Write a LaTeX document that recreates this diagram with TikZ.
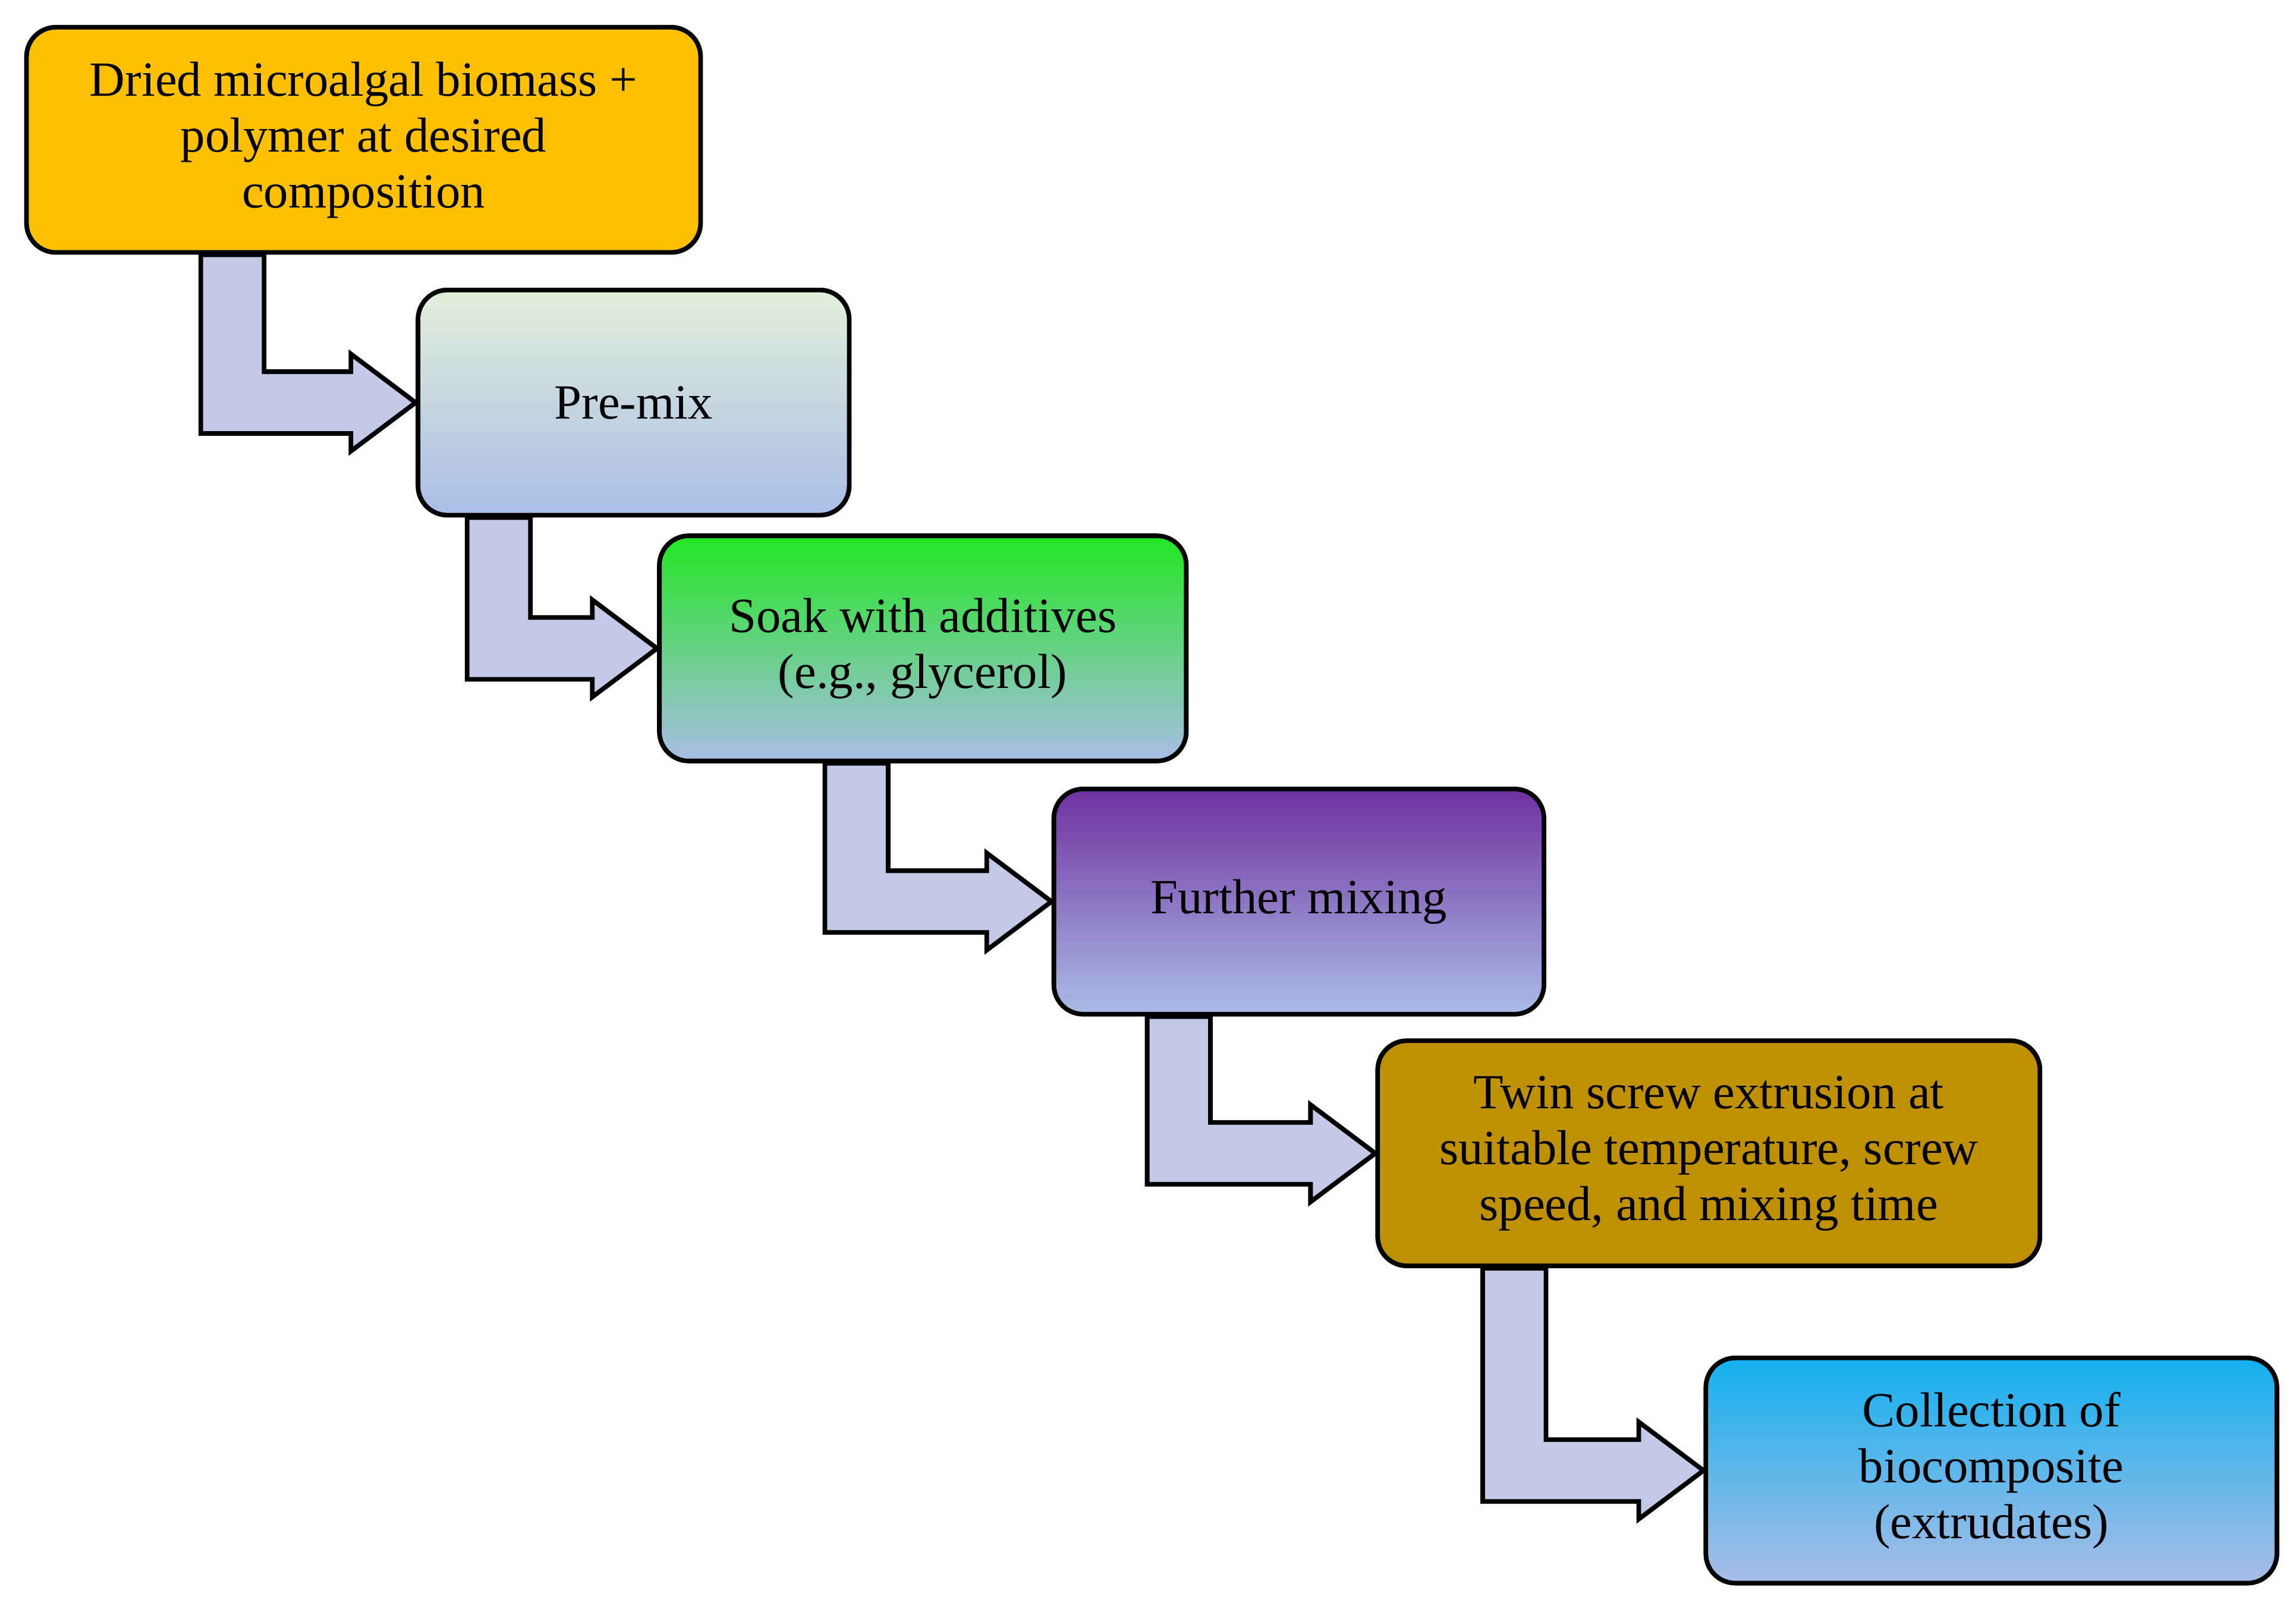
\documentclass[tikz,border=0pt]{standalone}
\usepackage{fontspec}
\setmainfont{Liberation Serif}
\usetikzlibrary{calc}
\definecolor{arrowfill}{HTML}{C4CAE6}
\definecolor{paleblue}{HTML}{A9BDE6}
\newcommand{\bentarrow}[3]{%
  \draw [flow] let \p1=(#1.south west), \p2=(#2.west) in
    ($(\x1,\y1)+(#3,0)$) -- ($(\x1,\y1)+(#3+0.43,0)$)
    -- ($(\x1,\y2)+(#3+0.43,0.21)$) -- ($(\x2,\y2)+(-0.44,0.21)$)
    -- ($(\x2,\y2)+(-0.44,0.33)$) -- (\x2,\y2)
    -- ($(\x2,\y2)+(-0.44,-0.33)$) -- ($(\x2,\y2)+(-0.44,-0.21)$)
    -- ($(\x1,\y2)+(#3,-0.21)$) -- cycle;}
\begin{document}
\begin{tikzpicture}[
		stage/.style={draw=black,line width=0.9pt,rectangle,rounded corners=0.2cm,align=center,inner sep=0pt,minimum height=1.53cm,font=\fontsize{9.5}{10.8}\selectfont},
		flow/.style={draw=black,line width=0.9pt,fill=arrowfill,line join=miter}
	]
		\useasboundingbox (0,0) rectangle (15.6,-10.89);
		\node [stage,fill={rgb,255:red,255;green,192;blue,0},minimum width=4.58cm] (biomass) at (2.47,-0.95) {Dried microalgal biomass +\\polymer at desired\\composition};
		\node [stage,top color={rgb,255:red,226;green,239;blue,218},bottom color=paleblue,minimum width=2.93cm] (premix) at (4.305,-2.735) {Pre-mix};
		\node [stage,top color={rgb,255:red,34;green,230;blue,34},bottom color=paleblue,minimum width=3.58cm] (soak) at (6.27,-4.405) {Soak with additives\\(e.g., glycerol)};
		\node [stage,top color={rgb,255:red,112;green,48;blue,160},bottom color=paleblue,minimum width=3.33cm] (further) at (8.825,-6.125) {Further mixing};
		\node [stage,fill={rgb,255:red,191;green,144;blue,0},minimum width=4.5cm] (twin) at (11.61,-7.835) {Twin screw extrusion at\\suitable temperature, screw\\speed, and mixing time};
		\node [stage,top color={rgb,255:red,18;green,176;blue,238},bottom color=paleblue,minimum width=3.88cm] (collect) at (13.53,-9.99) {Collection of\\biocomposite\\(extrudates)};

		\bentarrow{biomass}{premix}{1.2}
		\bentarrow{premix}{soak}{0.35}
		\bentarrow{soak}{further}{1.14}
		\bentarrow{further}{twin}{0.65}
		\bentarrow{twin}{collect}{0.73}
	\end{tikzpicture}
\end{document}
